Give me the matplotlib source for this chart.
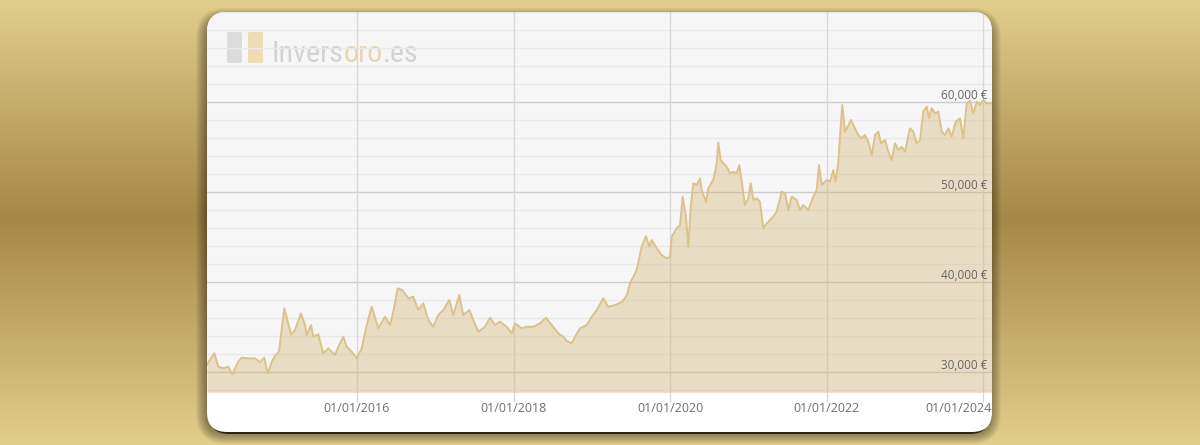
import numpy as np
import matplotlib
matplotlib.use("Agg")
import matplotlib.pyplot as plt
from matplotlib.patches import FancyBboxPatch, Rectangle
import matplotlib.transforms as mtransforms

# ---------------- data (gold price, EUR per kg) ----------------
years = [2014.083, 2014.092, 2014.176, 2014.227, 2014.291, 2014.355, 2014.406, 2014.483,
         2014.527, 2014.611, 2014.696, 2014.760, 2014.815, 2014.859, 2014.910, 2014.961,
         2015.003, 2015.071, 2015.157, 2015.208, 2015.284, 2015.335, 2015.357, 2015.412,
         2015.442, 2015.505, 2015.569, 2015.633, 2015.719, 2015.761, 2015.825, 2015.868,
         2015.932, 2015.996, 2016.060, 2016.124, 2016.188, 2016.272, 2016.358, 2016.422,
         2016.464, 2016.520, 2016.579, 2016.656, 2016.719, 2016.783, 2016.847, 2016.911,
         2016.975, 2017.039, 2017.103, 2017.180, 2017.231, 2017.307, 2017.358, 2017.435,
         2017.486, 2017.550, 2017.636, 2017.700, 2017.764, 2017.827, 2017.913, 2017.977,
         2018.019, 2018.105, 2018.169, 2018.253, 2018.339, 2018.415, 2018.488, 2018.573,
         2018.636, 2018.680, 2018.744, 2018.799, 2018.850, 2018.935, 2018.999, 2019.063,
         2019.148, 2019.212, 2019.297, 2019.387, 2019.450, 2019.489, 2019.574, 2019.638,
         2019.693, 2019.735, 2019.766, 2019.830, 2019.894, 2019.958, 2020.000, 2020.022,
         2020.086, 2020.128, 2020.162, 2020.204, 2020.234, 2020.265, 2020.298, 2020.341,
         2020.383, 2020.405, 2020.460, 2020.489, 2020.553, 2020.597, 2020.617, 2020.648,
         2020.681, 2020.725, 2020.767, 2020.809, 2020.852, 2020.886, 2020.929, 2020.958,
         2021.001, 2021.031, 2021.065, 2021.108, 2021.150, 2021.192, 2021.236, 2021.300,
         2021.364, 2021.427, 2021.470, 2021.512, 2021.555, 2021.619, 2021.661, 2021.704,
         2021.767, 2021.831, 2021.875, 2021.904, 2021.939, 2022.003, 2022.045, 2022.087,
         2022.117, 2022.151, 2022.173, 2022.202, 2022.236, 2022.271, 2022.313, 2022.364,
         2022.406, 2022.450, 2022.492, 2022.534, 2022.578, 2022.620, 2022.662, 2022.696,
         2022.748, 2022.790, 2022.833, 2022.875, 2022.918, 2022.961, 2023.003, 2023.067,
         2023.109, 2023.153, 2023.195, 2023.237, 2023.281, 2023.310, 2023.344, 2023.387,
         2023.429, 2023.472, 2023.514, 2023.557, 2023.600, 2023.651, 2023.706, 2023.748,
         2023.792, 2023.834, 2023.876, 2023.920, 2023.962, 2024.004, 2024.047, 2024.111]

prices = [30780, 30970, 32080, 30590, 30410, 30590, 29740, 31140,
          31590, 31520, 31520, 31080, 31590, 29860, 31140, 31890,
          32260, 37080, 34190, 34670, 36520, 35220, 34110, 35220,
          33920, 34190, 32080, 32630, 31890, 32810, 33920, 32810,
          32260, 31520, 32630, 35220, 37250, 34860, 36140, 35220,
          36700, 39300, 39110, 38190, 38370, 36890, 37630, 35780,
          35030, 36330, 36890, 38000, 36330, 38550, 36330, 36890,
          35780, 34480, 35030, 36030, 35220, 35590, 35030, 34300,
          35410, 34860, 35030, 35030, 35410, 36030, 35220, 34300,
          33920, 33440, 33190, 34110, 34860, 35220, 36140, 36890,
          38190, 37250, 37440, 37780, 38550, 39850, 41330, 43920,
          45110, 43920, 44670, 43740, 43000, 42630, 42810, 45030,
          45970, 46330, 49480, 47250, 43920, 48370, 50960, 50780,
          51520, 50220, 48920, 50410, 51330, 53190, 55480, 53550,
          53190, 52810, 52080, 52250, 52080, 53000, 50410, 48550,
          49300, 50960, 49110, 49300, 48920, 45970, 46520, 47080,
          47810, 50030, 49850, 48000, 49480, 49110, 48000, 48550,
          48000, 49480, 50220, 53000, 50780, 51330, 51140, 52440,
          51140, 53360, 56330, 59660, 56700, 57250, 58000, 57080,
          56330, 55960, 56330, 55590, 54110, 56330, 56700, 55410,
          55780, 54480, 53550, 55410, 54660, 55030, 54480, 57080,
          56700, 55410, 55780, 58920, 59480, 58190, 59300, 58740,
          58920, 56700, 56330, 57080, 56140, 57810, 58190, 55960,
          59850, 60110, 58740, 60030, 59660, 60220, 59850, 59850]

y_ticks = [30000, 40000, 50000, 60000]
y_labels = ["30,000 €", "40,000 €", "50,000 €", "60,000 €"]
x_ticks = [2016, 2018, 2020, 2022, 2024]
x_labels = ["01/01/2016", "01/01/2018", "01/01/2020", "01/01/2022", "01/01/2024"]
y_minor_step = 2000
x_limits = (2014.083, 2024.115)
y_limits = (27780, 70000)

logo_parts = ["Invers", "oro", ".es"]

# ---------------- figure & background ----------------
W, H = 1200, 445
fig = plt.figure(figsize=(W / 100, H / 100), dpi=100)
bg = fig.add_axes([0, 0, 1, 1])
bg.set_xlim(0, W)
bg.set_ylim(H, 0)
bg.axis("off")

# vertical gold gradient
stops = np.array([0.0, 0.49, 1.0])
cols = np.array([[225, 206, 141], [165, 136, 71], [226, 206, 139]]) / 255.0
yy = np.linspace(0, 1, H)
grad = np.stack([np.interp(yy, stops, cols[:, k]) for k in range(3)], axis=-1)
img = np.repeat(grad[:, None, :], 4, axis=1)
bg.imshow(img, extent=(0, W, H, 0), aspect="auto", zorder=0, interpolation="bilinear")

# card geometry (pixels)
cx0, cy0, cw, ch = 207, 12, 785, 420
plot_h = 380
radius = 20

# soft shadow (mostly below and left)
for i in range(12):
    pad = i * 0.9
    sh = FancyBboxPatch((cx0 - pad - 1, cy0 - pad + 6), cw + 2 * pad, ch + 2 * pad - 4,
                        boxstyle=f"round,pad=0,rounding_size={radius + pad}",
                        fc="black", ec="none", alpha=0.035, zorder=1)
    bg.add_patch(sh)
bg.add_patch(FancyBboxPatch((cx0 + 2, cy0 + 6), cw - 4, ch - 4,
                            boxstyle=f"round,pad=0,rounding_size={radius}",
                            fc="#1a1408", ec="none", alpha=0.85, zorder=1))

card = FancyBboxPatch((cx0, cy0), cw, ch,
                      boxstyle=f"round,pad=0,rounding_size={radius}",
                      fc="white", ec="none", zorder=2)
bg.add_patch(card)

plot_bg = Rectangle((cx0, cy0), cw, plot_h, fc="#f6f6f7", ec="none", zorder=3)
bg.add_patch(plot_bg)
plot_bg.set_clip_path(card)

# logo (watermark)
bg.add_patch(FancyBboxPatch((227, 32), 15, 31, boxstyle="round,pad=0,rounding_size=2",
                            fc="#dcdcdf", ec="none", zorder=4))
bg.add_patch(FancyBboxPatch((248, 32), 15, 31, boxstyle="round,pad=0,rounding_size=2",
                            fc="#eedcb6", ec="none", zorder=4))
logo_font = ["Liberation Sans Narrow", "DejaVu Sans Condensed", "Roboto Condensed", "DejaVu Sans"]
logo_cols = ["#d3d3d6", "#ead6ad", "#d3d3d6"]
fs = 22
t1 = bg.text(272, 62, logo_parts[0], fontsize=fs, family=logo_font, color=logo_cols[0],
             ha="left", va="baseline", zorder=4)
t2 = bg.annotate(logo_parts[1], xy=(1, 0), xycoords=t1, fontsize=fs, family=logo_font,
                 color=logo_cols[1], ha="left", va="bottom", zorder=4)
t3 = bg.annotate(logo_parts[2], xy=(1, 0), xycoords=t2, fontsize=fs, family=logo_font,
                 color=logo_cols[2], ha="left", va="bottom", zorder=4)
fig.canvas.draw()
r = fig.canvas.get_renderer()
wtot = t3.get_window_extent(r).x1 - t1.get_window_extent(r).x0
fs_new = fs * 147.0 / wtot
for t in (t1, t2, t3):
    t.set_fontsize(fs_new)

# ---------------- chart axes ----------------
ax = fig.add_axes([cx0 / W, (H - cy0 - plot_h) / H, cw / W, plot_h / H])
ax.set_zorder(5)
ax.patch.set_visible(False)
for s in ax.spines.values():
    s.set_visible(False)

arts = []
minor_vals = np.arange(y_limits[0] - y_limits[0] % y_minor_step + y_minor_step,
                       y_limits[1] + 1, y_minor_step)
for v in minor_vals:
    if v in y_ticks:
        continue
    arts.append(ax.axhline(v, color="#e9e9ea", lw=1.0, zorder=1))
for v in y_ticks:
    arts.append(ax.axhline(v, color="#cdcdcd", lw=1.0, zorder=1))
for xv in x_ticks:
    arts.append(ax.axvline(xv, color="#d8d8d8", lw=1.0, zorder=1))

arts.append(ax.fill_between(years, prices, y_limits[0], color="#d4b06c",
                            alpha=0.36, lw=0, zorder=2))
arts.extend(ax.plot(years, prices, color="#dcc28a", lw=1.4, zorder=3))
for a in arts:
    a.set_clip_path(card)

ax.set_xlim(*x_limits)
ax.set_ylim(*y_limits)
ax.set_yticks([])
ax.set_xticks(x_ticks)
ax.set_xticklabels([])
ax.tick_params(axis="x", length=7.5, width=1.0, color="#d8d8d8", direction="out")

label_font = ["Open Sans", "DejaVu Sans"]
ytr = mtransforms.offset_copy(ax.get_yaxis_transform(), fig=fig, x=-5, y=7, units="dots")
for v, lab in zip(y_ticks, y_labels):
    ax.text(1.0, v, lab, transform=ytr, ha="right", va="center", fontsize=8.5,
            color="#666666", family=label_font)

xtr = mtransforms.offset_copy(ax.get_xaxis_transform(), fig=fig, x=0, y=-17, units="dots")
for xv, lab in zip(x_ticks, x_labels):
    if xv > x_limits[1] - 0.5:
        ax.text(x_limits[1], 0, lab, transform=xtr, ha="right", va="center", fontsize=9,
                color="#707070", family=label_font)
    else:
        ax.text(xv, 0, lab, transform=xtr, ha="center", va="center", fontsize=9,
                color="#707070", family=label_font)

fig.savefig("out.png", dpi=100)
